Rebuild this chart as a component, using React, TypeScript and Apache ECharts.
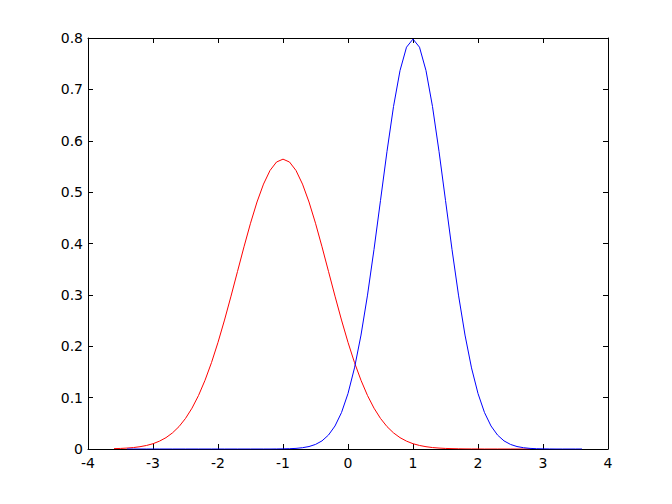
import React, { useEffect, useRef } from "react";
import * as echarts from "echarts";

const xTicks = [-4, -3, -2, -1, 0, 1, 2, 3, 4];
const yTicks = [0, 0.1, 0.2, 0.3, 0.4, 0.5, 0.6, 0.7, 0.8];

const redXStart = -3.6;
const redStep = 0.1;
const redY = [
  0.0007, 0.0011, 0.0018, 0.0028, 0.0045, 0.0069, 0.0103, 0.0153, 0.0221, 0.0314,
  0.0436, 0.0595, 0.0795, 0.1041, 0.1337, 0.1682, 0.2076, 0.251, 0.2975, 0.3456,
  0.3936, 0.4394, 0.4808, 0.5156, 0.5421, 0.5586, 0.5642, 0.5586, 0.5421, 0.5156,
  0.4808, 0.4394, 0.3936, 0.3456, 0.2975, 0.251, 0.2076, 0.1682, 0.1337, 0.1041,
  0.0795, 0.0595, 0.0436, 0.0314, 0.0221, 0.0153, 0.0103, 0.0069, 0.0045, 0.0028,
  0.0018, 0.0011, 0.0007, 0.0004, 0.0002, 0.0001, 0.0001, 0, 0, 0,
  0, 0, 0, 0, 0,
];

const blueXStart = -3.4;
const blueStep = 0.1;
const blueY = [
  0, 0, 0, 0, 0, 0, 0, 0, 0, 0,
  0, 0, 0, 0, 0, 0, 0, 0, 0, 0,
  0, 0, 0, 0.0001, 0.0003, 0.0006, 0.0012, 0.0025, 0.0048, 0.0089,
  0.0158, 0.0272, 0.0448, 0.0709, 0.108, 0.1579, 0.2218, 0.2995, 0.3884, 0.4839,
  0.5794, 0.6665, 0.7365, 0.7821, 0.7979, 0.7821, 0.7365, 0.6665, 0.5794, 0.4839,
  0.3884, 0.2995, 0.2218, 0.1579, 0.108, 0.0709, 0.0448, 0.0272, 0.0158, 0.0089,
  0.0048, 0.0025, 0.0012, 0.0006, 0.0003, 0.0001, 0, 0, 0, 0,
  0,
];

const toPairs = (start: number, step: number, ys: number[]) =>
  ys.map((y, i) => [Math.round((start + i * step) * 10) / 10, y]);

export default function App() {
  const ref = useRef<HTMLDivElement>(null);
  useEffect(() => {
    if (!ref.current) return;
    const chart = echarts.init(ref.current, null, { renderer: "svg" });
    const labelStyle = {
      color: "#000",
      fontFamily: "DejaVu Sans, sans-serif",
      fontSize: 14,
    };
    const lineStyle = { color: "#000", width: 1 };
    chart.setOption({
      animation: false,
      backgroundColor: "#fff",
      grid: { left: 88, top: 38, width: 520, height: 411, containLabel: false },
      xAxis: [
        {
          type: "value",
          min: xTicks[0],
          max: xTicks[xTicks.length - 1],
          interval: 1,
          position: "bottom",
          axisLine: { show: true, onZero: false, lineStyle },
          axisTick: { show: true, inside: true, length: 5, lineStyle },
          axisLabel: { ...labelStyle, margin: 7 },
          splitLine: { show: false },
        },
        {
          type: "value",
          min: xTicks[0],
          max: xTicks[xTicks.length - 1],
          interval: 1,
          position: "top",
          axisLine: { show: true, onZero: false, lineStyle },
          axisTick: { show: true, inside: true, length: 5, lineStyle },
          axisLabel: { show: false },
          splitLine: { show: false },
        },
      ],
      yAxis: [
        {
          type: "value",
          min: yTicks[0],
          max: yTicks[yTicks.length - 1],
          interval: 0.1,
          position: "left",
          axisLine: { show: true, onZero: false, lineStyle },
          axisTick: { show: true, inside: true, length: 5, lineStyle },
          axisLabel: { ...labelStyle, margin: 5, formatter: (v: number) => String(Math.round(v * 10) / 10) },
          splitLine: { show: false },
        },
        {
          type: "value",
          min: yTicks[0],
          max: yTicks[yTicks.length - 1],
          interval: 0.1,
          position: "right",
          axisLine: { show: true, onZero: false, lineStyle },
          axisTick: { show: true, inside: true, length: 5, lineStyle },
          axisLabel: { show: false },
          splitLine: { show: false },
        },
      ],
      series: [
        {
          type: "line",
          data: toPairs(redXStart, redStep, redY),
          showSymbol: false,
          symbol: "none",
          lineStyle: { color: "#ff0000", width: 1 },
          itemStyle: { color: "#ff0000" },
          z: 2,
        },
        {
          type: "line",
          data: toPairs(blueXStart, blueStep, blueY),
          showSymbol: false,
          symbol: "none",
          lineStyle: { color: "#0000ff", width: 1 },
          itemStyle: { color: "#0000ff" },
          z: 3,
        },
      ],
    });
    return () => chart.dispose();
  }, []);
  return (
    <div
      ref={ref}
      style={{ position: "fixed", left: 0, top: 0, width: 672, height: 504, background: "#fff" }}
    />
  );
}
